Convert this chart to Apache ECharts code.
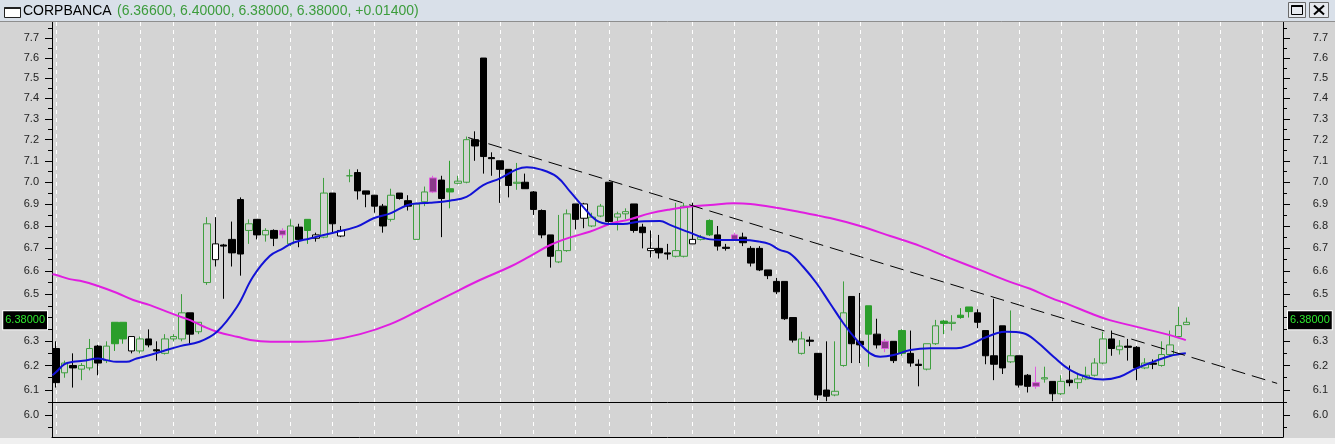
<!DOCTYPE html>
<html><head><meta charset="utf-8">
<script src="https://cdn.jsdelivr.net/npm/echarts@6/dist/echarts.min.js"></script>
<style>html,body{margin:0;padding:0;background:#d4d4d4;overflow:hidden}#c{width:1335px;height:444px}</style>
</head><body><div id="c"></div>
<script>
// ---------- data ----------
const opens = [6.27,6.17,6.20,6.185,6.19,6.28,6.22,6.38,6.38,6.26, 6.26,6.31,6.265,6.25,6.31,6.31,6.42,6.34,6.55,6.65,
 6.715,6.74,6.92,6.78,6.83,6.76,6.78,6.78,6.72,6.795, 6.83,6.745,6.75,6.95,6.755,7.03,7.045,6.96,6.94,6.89,
 6.83,6.95,6.915,6.74,6.91,7.02,7.01,6.97,6.995,7.00, 7.20,7.60,7.115,7.10,7.06,6.995,7.00,6.955,6.87,6.76,
 6.64,6.69,6.90,6.835,6.80,6.845,7.00,6.84,6.855,6.90, 6.795,6.69,6.70,6.68,6.665,6.665,6.72,6.74,6.825,6.76,
 6.705,6.76,6.75,6.70,6.70,6.605,6.555,6.555,6.40,6.25, 6.305,6.25,6.10,6.08,6.20,6.49,6.30,6.45,6.33,6.30,
 6.30,6.345,6.25,6.205,6.185,6.29,6.385,6.375,6.41,6.445, 6.42,6.345,6.24,6.365,6.215,6.24,6.16,6.13,6.145,6.135,
 6.085,6.14,6.13,6.145,6.16,6.21,6.31,6.265,6.28,6.275, 6.19,6.21,6.20,6.245,6.32,6.37];
const closes = [6.13,6.21,6.19,6.20,6.27,6.21,6.28,6.29,6.31,6.32, 6.31,6.285,6.26,6.31,6.32,6.42,6.33,6.38,6.81,6.72,
 6.71,6.68,6.675,6.81,6.76,6.78,6.745,6.76,6.80,6.74, 6.78,6.76,6.95,6.81,6.78,7.03,6.96,6.945,6.89,6.80,
 6.94,6.925,6.89,6.90,6.955,6.955,6.925,6.955,7.005,7.20, 7.17,7.12,7.11,7.06,6.985,7.00,6.97,6.875,6.76,6.665,
 6.69,6.855,6.83,6.90,6.84,6.89,6.82,6.855,6.865,6.78, 6.77,6.70,6.68,6.675,6.69,6.89,6.74,6.75,6.76,6.71,
 6.70,6.74,6.725,6.635,6.605,6.58,6.51,6.395,6.305,6.31, 6.30,6.08,6.075,6.095,6.42,6.29,6.285,6.33,6.285,6.27,
 6.22,6.25,6.21,6.20,6.29,6.365,6.375,6.38,6.40,6.425, 6.38,6.24,6.205,6.19,6.24,6.12,6.115,6.115,6.15,6.085,
 6.135,6.13,6.145,6.16,6.21,6.31,6.27,6.28,6.275,6.19, 6.21,6.205,6.245,6.285,6.366,6.38];
const lows = [6.11,6.15,6.11,6.14,6.18,6.16,6.21,6.26,6.29,6.25, 6.25,6.275,6.22,6.245,6.30,6.30,6.29,6.33,6.54,6.62,
 6.48,6.62,6.58,6.72,6.74,6.73,6.71,6.745,6.71,6.705, 6.72,6.73,6.745,6.77,6.75,7.00,6.92,6.885,6.86,6.77,
 6.82,6.92,6.87,6.74,6.89,6.95,6.75,6.88,6.99,6.995, 7.10,7.04,7.03,6.905,6.93,6.965,6.97,6.85,6.745,6.615,
 6.635,6.685,6.785,6.79,6.795,6.84,6.815,6.78,6.83,6.77, 6.70,6.66,6.655,6.65,6.66,6.66,6.72,6.735,6.755,6.69,
 6.69,6.735,6.71,6.62,6.60,6.565,6.50,6.39,6.295,6.245, 6.28,6.06,6.055,6.075,6.195,6.21,6.21,6.195,6.27,6.255,
 6.21,6.24,6.195,6.115,6.18,6.285,6.33,6.345,6.395,6.40, 6.355,6.205,6.14,6.165,6.21,6.11,6.09,6.105,6.13,6.055,
 6.08,6.115,6.105,6.14,6.155,6.205,6.24,6.245,6.22,6.14, 6.185,6.185,6.195,6.24,6.315,6.37];
const highs = [6.30,6.22,6.25,6.21,6.31,6.285,6.30,6.38,6.38,6.32, 6.32,6.35,6.30,6.33,6.33,6.50,6.42,6.38,6.84,6.84,
 6.72,6.82,6.93,6.83,6.83,6.79,6.785,6.79,6.83,6.81, 6.83,6.77,7.02,6.95,6.80,7.06,7.06,6.96,6.94,6.90,
 6.97,6.95,6.94,6.90,6.98,7.03,7.03,7.10,7.03,7.215, 7.24,7.60,7.14,7.10,7.06,7.09,7.04,6.96,6.875,6.76,
 6.85,6.875,6.90,6.905,6.86,6.90,7.00,6.865,6.88,6.90, 6.81,6.78,6.76,6.72,6.905,6.905,6.905,6.76,6.83,6.80,
 6.72,6.77,6.77,6.71,6.71,6.605,6.57,6.555,6.40,6.34, 6.32,6.25,6.30,6.30,6.555,6.49,6.505,6.45,6.395,6.31,
 6.30,6.35,6.345,6.225,6.29,6.39,6.39,6.41,6.44,6.445, 6.435,6.345,6.48,6.365,6.43,6.24,6.165,6.195,6.195,6.135,
 6.16,6.20,6.17,6.195,6.23,6.34,6.345,6.305,6.31,6.28, 6.23,6.225,6.30,6.345,6.445,6.40];
// bar class seen in the picture: G hollow green, F filled green, K filled black, W hollow black, M magenta
const barClass = ("KGKGGKGFFW"+"GKKGGGKGGW"+"KKKGKGKMGK"+"FWGKWGKKKK"+"GKKGGMKFGG"+
 "KKKKKGKKKK"+"GGKWGGKGGK"+"KWKKGGWGFK"+"KMKKKKKKKG"+"KKKGGKKFKM"+"KFKKGGFGFF"+"KKKKGKKMGK"+"GKGGGGKGKK"+"GKGGGG").split('');
const slotCount = 147;
const categories = Array.from({length: slotCount}, (_, i) => 'd' + (i + 1));
const weekStarts = [0,5,10,14,19,24,28,33,38,43,48,53,57,62,66,71,76,81,86,91,96,101,106,110,115,120,125,129,134,139,144];
// short moving average (blue) : position along the bars, value
const fastX = [-0.45,0,1,2,3.2,5,6,7.2,8.4,9.6,11.2,12.8,14.8,17.1,19.2,21.6,23.5,25.5,27.1,28.3,30.3,33.1,35.9,37.9,39.9,41.9,43.4,44.6,47,49,51,53,55,56.2,57.8,59.8,61.4,62.9,64.5,66.1,67.7,69.7,72.1,73.3,75.7,78.1,80.1,82,84,85.2,86.4,87.6,89.2,90.8,92.4,94,95.6,97.2,98.4,100,102,104.4,107.5,109.1,110.7,112.3,113.5,115.5,117.1,119.1,121.1,123.1,125,127,129,131,133,134.9];
const fastV = [6.16,6.173,6.206,6.215,6.219,6.229,6.222,6.215,6.215,6.229,6.243,6.26,6.28,6.298,6.34,6.446,6.575,6.666,6.70,6.725,6.744,6.77,6.797,6.835,6.857,6.894,6.903,6.905,6.915,6.932,6.987,7.018,7.06,7.07,7.06,7.025,6.955,6.888,6.825,6.809,6.809,6.82,6.822,6.805,6.77,6.74,6.737,6.737,6.73,6.719,6.693,6.678,6.619,6.547,6.461,6.376,6.305,6.25,6.236,6.243,6.264,6.271,6.271,6.285,6.312,6.334,6.34,6.334,6.298,6.236,6.181,6.152,6.143,6.154,6.188,6.215,6.239,6.25];
// long moving average (magenta)
const slowX = [-0.45,0,1.6,3.2,5,7.2,9.2,11.2,13.2,14.8,16,17.6,19.2,21.6,23.9,26.3,29.1,32.7,36.3,39.9,43.4,47,50.6,54.2,56.6,59,61.4,63.7,66.1,68.5,70.9,73.3,75.7,78.1,80.9,82.9,86.4,88.8,92.4,96,99.6,103.2,106.7,110.3,113.9,116.3,118.7,121.1,123.5,125.8,128.2,130.6,133,134.9];
const slowV = [6.586,6.583,6.565,6.555,6.535,6.506,6.475,6.453,6.425,6.404,6.389,6.362,6.34,6.319,6.302,6.298,6.298,6.305,6.33,6.372,6.432,6.497,6.561,6.619,6.666,6.715,6.749,6.774,6.809,6.83,6.857,6.875,6.888,6.895,6.903,6.90,6.88,6.863,6.836,6.80,6.755,6.71,6.657,6.605,6.553,6.523,6.485,6.453,6.418,6.389,6.368,6.347,6.326,6.305];
const yLabelValues = [6.0,6.1,6.2,6.3,6.5,6.6,6.7,6.8,6.9,7.0,7.1,7.2,7.3,7.4,7.5,7.6,7.7];
const yMajorTicks = [6.0,6.1,6.2,6.3,6.4,6.5,6.6,6.7,6.8,6.9,7.0,7.1,7.2,7.3,7.4,7.5,7.6,7.7];
const yMinorTicks = [5.95,6.05,6.15,6.25,6.35,6.45,6.55,6.65,6.75,6.85,6.95,7.05,7.15,7.25,7.35,7.45,7.55,7.65,7.75];
const supportLevel = 6.05;
const trendFrom = [49.2, 7.21];
const trendTo = [145.8, 6.127];
const lastPrice = 6.38;
const titleName = 'CORPBANCA';
const titleQuote = '(6.36600, 6.40000, 6.38000, 6.38000, +0.01400)';
const yMin = 5.9132, yMax = 7.7836;

// ---------- chart ----------
const BG = '#d4d4d4';
const styles = {
  G: {color: BG, border: '#3f9f3f'},
  F: {color: '#2b9e2b', border: '#2b9e2b'},
  K: {color: '#000000', border: '#000000'},
  W: {color: '#ffffff', border: '#000000'},
  M: {color: '#8a3a8a', border: '#e05ce0'}
};
const candleData = opens.map((o, i) => {
  const s = styles[barClass[i]];
  return {value: [o, closes[i], lows[i], highs[i]],
    itemStyle: {color: s.color, color0: s.color, borderColor: s.border, borderColor0: s.border, borderColorDoji: s.border, borderWidth: 1}};
});
const weekSet = new Set(weekStarts);
const font = "'Liberation Sans', Arial, sans-serif";

function yAxisDef(pos, major) {
  return {
    type: 'log', logBase: 10, min: yMin, max: yMax, position: pos,
    axisLine: {show: major, onZero: false, lineStyle: {color: '#000', width: 1}},
    axisTick: {show: true, inside: false, length: major ? 7 : 4, customValues: major ? yMajorTicks : yMinorTicks, lineStyle: {color: '#000'}},
    axisLabel: major ? {show: true, customValues: yLabelValues, formatter: v => Number(v).toFixed(1), color: '#222', fontSize: 11, fontFamily: font,
      margin: pos === 'left' ? 13 : 45, align: 'right'} : {show: false},
    splitLine: {show: false}, minorTick: {show: false}, minorSplitLine: {show: false}
  };
}

const priceLabel = {show: true, formatter: lastPrice.toFixed(5), color: '#2ee82e', backgroundColor: '#000', borderColor: '#fff', borderWidth: 1,
  padding: [4, 2, 3, 2], fontSize: 11, fontFamily: font, distance: 5, offset: [0, -2]};

const option = {
  backgroundColor: BG,
  animation: false,
  grid: {left: 52, right: 52, top: 22, bottom: 7, containLabel: false},
  xAxis: [{
    type: 'category', data: categories, boundaryGap: true,
    axisLine: {show: true, onZero: false, lineStyle: {color: '#000'}}, axisTick: {show: false}, axisLabel: {show: false},
    splitLine: {show: true, alignWithLabel: true, interval: (i) => weekSet.has(i), lineStyle: {color: '#ffffff', type: [4, 4], width: 1}}
  }, {
    // continuous bar-position axis (bar i sits at value i) for the smooth averages and the trend line
    type: 'value', min: -0.5, max: slotCount - 0.5, show: false, axisLine: {onZero: false}, splitLine: {show: false}
  }],
  yAxis: [yAxisDef('left', true), yAxisDef('left', false), yAxisDef('right', true), yAxisDef('right', false)],
  series: [
    {type: 'candlestick', data: candleData, barWidth: 7, xAxisIndex: 0, yAxisIndex: 0, z: 2},
    {type: 'line', data: slowX.map((x, k) => [x, slowV[k]]), smooth: 0.4, symbol: 'none', xAxisIndex: 1, yAxisIndex: 0,
      lineStyle: {color: '#e01ee0', width: 2}, z: 3,
      markLine: {silent: true, symbol: ['none', 'none'], animation: false,
        data: [
          {yAxis: supportLevel, lineStyle: {color: '#000', width: 1, type: 'solid'}, label: {show: false}},
          [{coord: trendFrom, lineStyle: {color: '#000', width: 1, type: [14, 7]}, label: {show: false}}, {coord: trendTo}],
          {yAxis: lastPrice, lineStyle: {color: 'rgba(0,0,0,0)', width: 0}, label: Object.assign({position: 'start'}, priceLabel)},
          {yAxis: lastPrice, lineStyle: {color: 'rgba(0,0,0,0)', width: 0}, label: Object.assign({position: 'end'}, priceLabel)}
        ]}},
    {type: 'line', data: fastX.map((x, k) => [x, fastV[k]]), smooth: 0.4, symbol: 'none', xAxisIndex: 1, yAxisIndex: 0,
      lineStyle: {color: '#1212d6', width: 2}, z: 4}
  ],
  graphic: {elements: [
    {type: 'rect', shape: {x: 0, y: 0, width: 1335, height: 21}, style: {fill: '#d9e0e9'}, z: 10},
    {type: 'line', shape: {x1: 0, y1: 21.5, x2: 1335, y2: 21.5}, style: {stroke: '#8e8e8e', lineWidth: 1}, z: 10},
    {type: 'rect', shape: {x: 4.5, y: 7.5, width: 16, height: 10}, style: {fill: '#ffffff', stroke: '#222', lineWidth: 1}, z: 11},
    {type: 'line', shape: {x1: 4.5, y1: 8, x2: 20.5, y2: 8}, style: {stroke: '#222', lineWidth: 2}, z: 11},
    {type: 'text', x: 23, y: 11.5, style: {text: titleName, fill: '#000', font: '14px ' + font, textVerticalAlign: 'middle'}, z: 11},
    {type: 'text', x: 117, y: 11.5, style: {text: titleQuote, fill: '#3c9c3c', font: '14px ' + font, textVerticalAlign: 'middle'}, z: 11},
    {type: 'rect', shape: {x: 1288.5, y: 2.5, width: 17, height: 15}, style: {fill: '#e6e9ee', stroke: '#6a6a6a', lineWidth: 1}, z: 11},
    {type: 'rect', shape: {x: 1291.5, y: 5.5, width: 11, height: 9}, style: {fill: 'none', stroke: '#000', lineWidth: 1}, z: 12},
    {type: 'line', shape: {x1: 1291.5, y1: 6, x2: 1302.5, y2: 6}, style: {stroke: '#000', lineWidth: 2}, z: 12},
    {type: 'rect', shape: {x: 1309.5, y: 2.5, width: 19, height: 15}, style: {fill: '#e6e9ee', stroke: '#6a6a6a', lineWidth: 1}, z: 11},
    {type: 'line', shape: {x1: 1314, y1: 5.5, x2: 1324, y2: 14.5}, style: {stroke: '#000', lineWidth: 2}, z: 12},
    {type: 'line', shape: {x1: 1324, y1: 5.5, x2: 1314, y2: 14.5}, style: {stroke: '#000', lineWidth: 2}, z: 12},
    {type: 'rect', shape: {x: 0, y: 438, width: 1335, height: 6}, style: {fill: '#f0f0f0'}, z: 10}
  ]}
};
const chart = echarts.init(document.getElementById('c'));
chart.setOption(option);
</script>
</body></html>
